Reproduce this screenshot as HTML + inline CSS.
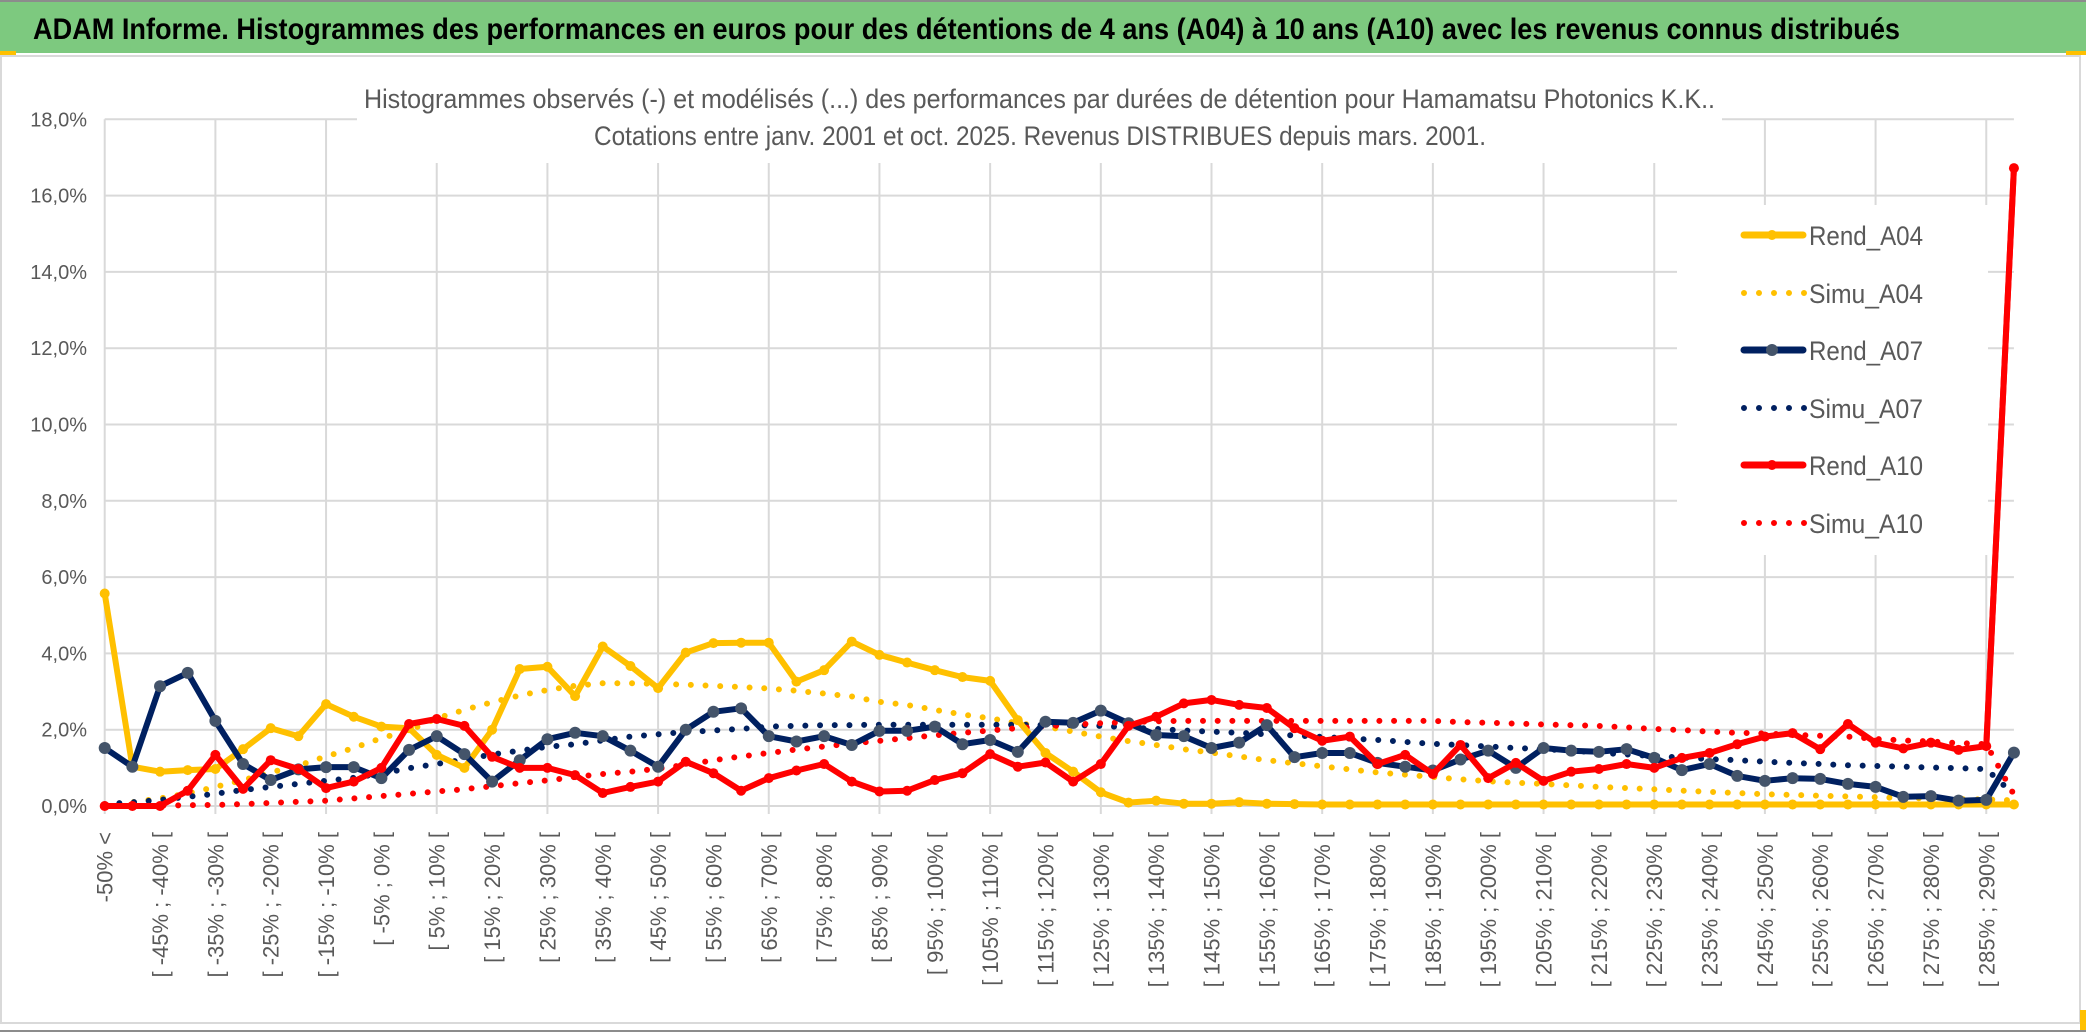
<!DOCTYPE html>
<html><head><meta charset="utf-8">
<style>
html,body{margin:0;padding:0;background:#fff;width:2086px;height:1033px;overflow:hidden}
svg{display:block}
text{font-family:"Liberation Sans",sans-serif}
</style></head>
<body>
<svg id="chart" width="2086" height="1033" viewBox="0 0 2086 1033" xmlns="http://www.w3.org/2000/svg">
  <rect x="0" y="0" width="2086" height="1033" fill="#ffffff"/>
  <rect x="0" y="2" width="2086" height="51" fill="#7dc97f"/>
  <line x1="0" y1="1" x2="2086" y2="1" stroke="#8c8c8c" stroke-width="2"/>
  <rect x="0" y="51" width="16" height="4" fill="#ffc000"/>
  <rect x="2066" y="51" width="20" height="4" fill="#ffc000"/>
  <text x="33" y="39" font-size="30" font-weight="bold" fill="#000" textLength="1867" lengthAdjust="spacingAndGlyphs">ADAM Informe. Histogrammes des performances en euros pour des détentions de 4 ans (A04) à 10 ans (A10) avec les revenus connus distribués</text>
  <rect x="1" y="56" width="2079" height="967" fill="#fff" stroke="#d9d9d9" stroke-width="2"/>
  <line x1="0" y1="1031" x2="2086" y2="1031" stroke="#8c8c8c" stroke-width="2"/>
  <rect x="2080" y="1010" width="6" height="20" fill="#ffc000"/>
  <g id="grid"></g>
  <rect x="357" y="70" width="1365" height="93" fill="#fff"/>
  <text x="364" y="108" font-size="27" fill="#595959" textLength="1351" lengthAdjust="spacingAndGlyphs">Histogrammes observés (-) et modélisés (...) des performances par durées de détention pour Hamamatsu Photonics K.K..</text>
  <text x="594" y="145" font-size="27" fill="#595959" textLength="892" lengthAdjust="spacingAndGlyphs">Cotations entre janv. 2001 et oct. 2025. Revenus DISTRIBUES depuis mars. 2001.</text>
  <g id="ylabels"></g>
  <g id="xlabels"></g>
  <g id="series"></g>
  <g id="legend"></g>
</svg>
<script>
const simuA04 = [0,0.1,0.2,0.33,0.5,0.68,0.88,1.06,1.3,1.52,1.78,1.98,2.3,2.52,2.72,2.9,3.04,3.15,
3.22,3.22,3.2,3.18,3.15,3.12,3.08,3.02,2.95,2.87,2.73,2.65,2.52,2.4,2.3,2.17,2.08,1.95,1.82,1.7,1.6,1.49,1.4,1.3,1.2,1.12,1.04,0.96,0.88,0.82,0.76,0.7,0.65,0.61,0.58,0.54,0.5,0.47,0.44,0.4,0.37,0.34,0.31,0.29,0.27,0.25,0.23,0.21,0.2,0.18,0.17,0.15];
const simuA07 = [0.05,0.1,0.16,0.24,0.32,0.42,0.5,0.58,0.66,0.74,0.85,0.99,1.1,1.22,1.35,1.45,1.55,1.62,
1.72,1.82,1.88,1.94,1.98,2.02,2.08,2.1,2.12,2.12,2.13,2.13,2.13,2.13,2.13,2.13,2.12,2.12,2.1,2.06,2.02,1.98,1.95,1.92,1.88,1.85,1.81,1.77,1.73,1.68,1.63,1.6,1.56,1.52,1.49,1.45,1.4,1.35,1.31,1.27,1.23,1.2,1.16,1.13,1.1,1.07,1.05,1.03,1.01,0.99,0.97,0.3];
const simuA10 = [0,0,0.01,0.02,0.03,0.05,0.08,0.11,0.14,0.2,0.26,0.32,0.38,0.44,0.52,0.6,0.67,0.76,0.84,0.9,0.98,1.08,1.2,1.3,1.39,1.48,1.56,1.64,1.71,1.78,1.85,1.92,1.98,2.04,2.09,2.13,2.17,2.2,2.22,
2.23,2.23,2.23,2.23,2.23,2.23,2.23,2.23,2.23,2.23,2.2,2.18,2.16,2.14,2.12,2.1,2.06,2.02,1.99,1.95,1.92,1.9,1.87,1.84,1.82,1.76,1.72,1.69,1.65,1.62,0.3];
const rendA04 = [5.57,1.03,0.9,0.94,0.97,1.49,2.04,1.83,2.67,2.34,2.08,2.04,1.34,1.0,2.0,3.59,3.65,2.88,4.18,
3.67,3.09,4.02,4.27,4.28,4.28,3.26,3.56,4.31,3.96,3.76,3.56,3.38,3.28,2.25,1.39,0.9,0.36,
0.09,0.14,0.06,0.06,0.1,0.06,0.05,0.04,0.04,0.04,0.04,0.04,0.04,0.04,0.04,0.04,0.04,0.04,0.04,0.04,0.04,0.04,0.04,0.04,0.04,0.04,0.04,0.04,0.04,0.04,0.04,0.04,0.04];
const rendA07 = [1.52,1.03,3.14,3.49,2.23,1.1,0.68,0.96,1.02,1.02,0.73,1.47,1.83,1.36,0.64,1.2,1.75,1.92,1.83,
1.45,1.03,2.0,2.47,2.56,1.83,1.69,1.83,1.6,1.97,1.97,2.08,1.62,1.73,1.42,2.21,2.18,2.5,
2.17,1.86,1.83,1.52,1.66,2.12,1.28,1.39,1.39,1.13,1.03,0.93,1.22,1.45,1.0,1.52,1.45,1.42,
1.49,1.26,0.94,1.1,0.79,0.66,0.73,0.71,0.58,0.5,0.24,0.26,0.14,0.16,1.4];
const rendA10 = [0,0,0,0.4,1.34,0.45,1.2,0.97,0.47,0.64,1.0,2.15,2.28,2.1,1.29,1.0,1.0,0.81,0.34,
0.5,0.64,1.16,0.86,0.4,0.73,0.93,1.1,0.64,0.38,0.4,0.68,0.86,1.36,1.03,1.14,0.64,1.1,
2.1,2.34,2.69,2.78,2.65,2.57,2.04,1.71,1.82,1.1,1.34,0.84,1.6,0.73,1.13,0.66,0.9,0.97,
1.1,1.0,1.26,1.39,1.62,1.82,1.91,1.49,2.15,1.66,1.51,1.66,1.47,1.57,16.72];
const yTicks = [0,2,4,6,8,10,12,14,16,18];
const categories = ["-50% <"];
for (let k = 1; k < 70; k++) { const a = -50 + 5*(k-1); categories.push("[ " + a + "% ; " + (a+5) + "% ["); }

const NS = "http://www.w3.org/2000/svg";
const X0 = 104.7, DX = 27.67, Y0 = 806, PXPER = 38.15;
const xs = i => X0 + DX*i;
const ys = v => Y0 - v*PXPER;
function mk(tag, attrs, parent){ const e=document.createElementNS(NS,tag); for(const k in attrs) e.setAttribute(k,attrs[k]); parent.appendChild(e); return e; }

const grid = document.getElementById('grid');
const xEnd = xs(categories.length-1);
yTicks.forEach(t => {
  const l = mk('line',{x1:X0,x2:xEnd,y1:ys(t),y2:ys(t),stroke:'#d9d9d9','stroke-width':2},grid);
  
  
  const tx = mk('text',{x:87,y:ys(t)+7,'text-anchor':'end','font-size':20,fill:'#595959'},document.getElementById('ylabels'));
  tx.textContent = t.toFixed(1).replace('.',',') + '%';
  
  
});
for (let i = 0; i < categories.length; i += 4) {
  const l = mk('line',{x1:xs(i),x2:xs(i),y1:ys(18),y2:Y0+8,stroke:'#d9d9d9','stroke-width':2},grid);
  
  
}
const xl = document.getElementById('xlabels');
categories.forEach((c,i) => {
  if (i % 2) return;
  const t = mk('text',{transform:`translate(${xs(i)+8},832) rotate(-90)`,'text-anchor':'end','font-size':22,fill:'#595959'},xl);
  t.textContent = c;
  
  
});

const ser = document.getElementById('series');
function pts(arr){ return arr.map((v,i)=>xs(i).toFixed(1)+','+ys(v).toFixed(1)).join(' '); }
function dotted(arr,color,name){
  const p = mk('polyline',{points:pts(arr),fill:'none',stroke:color,'stroke-width':6,'stroke-linecap':'round','stroke-dasharray':'0 14.7'},ser);
  
  
}
function solid(arr,color,mcolor,r,name){
  const p = mk('polyline',{points:pts(arr),fill:'none',stroke:color,'stroke-width':6,'stroke-linejoin':'round'},ser);
  
  
  arr.forEach((v,i)=>{
    const c = mk('circle',{cx:xs(i),cy:ys(v),r:r,fill:mcolor},ser);
    
    
  });
}
dotted(simuA04,'#ffc000','simu-a04-line');
dotted(simuA07,'#002060','simu-a07-line');
dotted(simuA10,'#ff0000','simu-a10-line');
solid(rendA04,'#ffc000','#ffc000',5,'rend-a04-line');
solid(rendA07,'#002060','#44546a',6,'rend-a07-line');
solid(rendA10,'#ff0000','#ff0000',5,'rend-a10-line');

const lg = document.getElementById('legend');
const lbox = mk('rect',{x:1677,y:205,width:311,height:350,fill:'#fff'},lg);


const spike = mk('line',{x1:xs(68),y1:ys(rendA10[68]),x2:xs(69),y2:ys(rendA10[69]),stroke:'#ff0000','stroke-width':6},lg);


const entries = [
  ['Rend_A04','#ffc000','#ffc000',false,235],
  ['Simu_A04','#ffc000',null,true,293],
  ['Rend_A07','#002060','#44546a',false,350],
  ['Simu_A07','#002060',null,true,408],
  ['Rend_A10','#ff0000','#ff0000',false,465],
  ['Simu_A10','#ff0000',null,true,523]
];
entries.forEach(e => {
  const g = mk('g',{},lg);
  
  
  if (e[3]) {
    mk('line',{x1:1744,x2:1806,y1:e[4],y2:e[4],stroke:e[1],'stroke-width':6,'stroke-linecap':'round','stroke-dasharray':'0 15'},g);
  } else {
    mk('line',{x1:1744,x2:1803,y1:e[4],y2:e[4],stroke:e[1],'stroke-width':7,'stroke-linecap':'round'},g);
    mk('circle',{cx:1772,cy:e[4],r:e[2]==='#44546a'?6:5,fill:e[2]},g);
  }
  const t = mk('text',{x:1809,y:e[4]+10,'font-size':27,fill:'#595959',textLength:114,lengthAdjust:'spacingAndGlyphs'},g);
  t.textContent = e[0];
});
</script>
</body></html>
